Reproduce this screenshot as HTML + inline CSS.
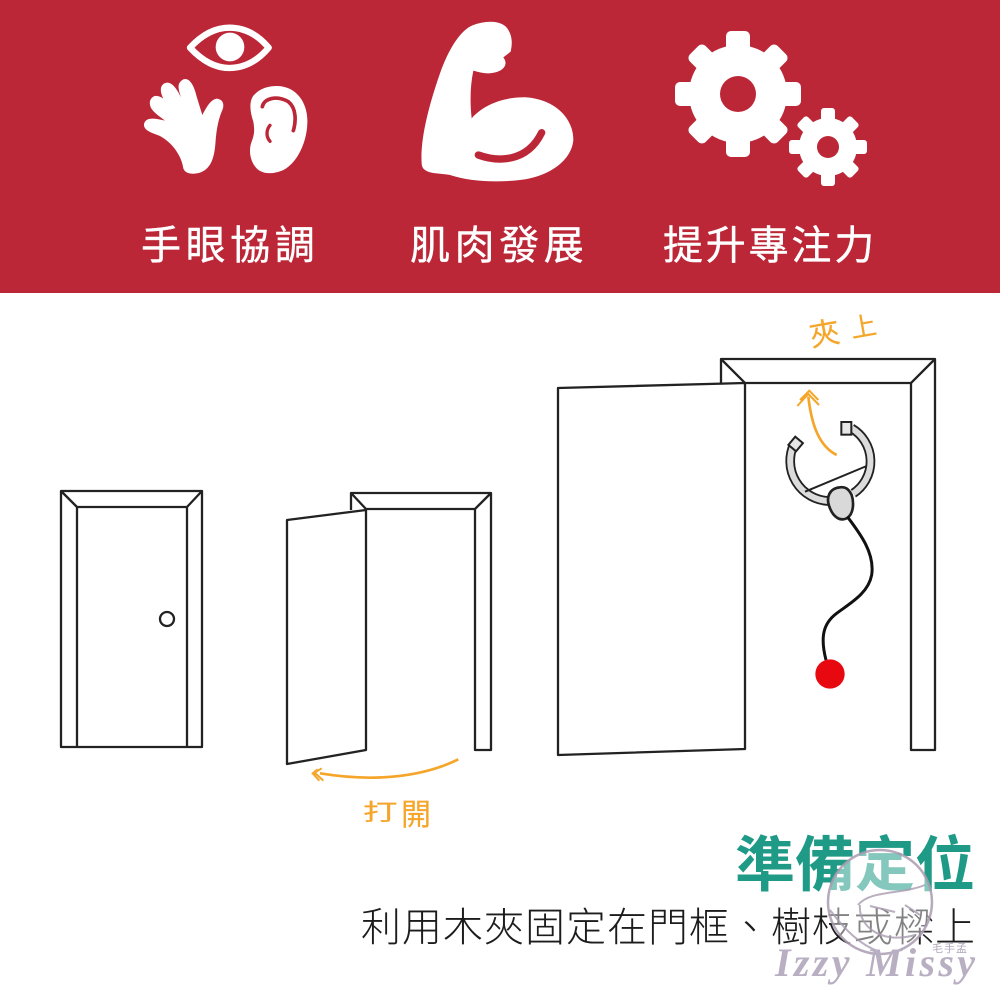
<!DOCTYPE html>
<html><head><meta charset="utf-8">
<style>
html,body{margin:0;padding:0;background:#fff}
#p{position:relative;width:1000px;height:1000px;overflow:hidden;background:#fff}
svg{position:absolute;left:0;top:0}
text{font-family:"Liberation Sans","Noto Sans CJK TC",sans-serif}
</style></head><body><div id="p">
<svg width="1000" height="1000" viewBox="0 0 1000 1000">
<rect width="1000" height="293" fill="#bc2738"/>
<!-- eye / hand / ear / arm -->
<g transform="translate(120,0) scale(.33333)">
<path d="M210,143 C250,100 290,83 328,83 C370,83 410,100 446,143 C410,186 370,204 328,204 C290,204 250,186 210,143Z" fill="none" stroke="#fff" stroke-width="19" stroke-linejoin="round"/>
<circle cx="330" cy="141" r="43" fill="#fff"/>
<path fill="#fff" d="M190,505 C185,470 160,430 120,408 C95,398 70,392 72,372 C78,350 105,355 135,362 C115,345 85,330 90,303 C98,282 115,285 130,296 C122,280 118,262 130,252 C148,240 165,255 183,292 C176,270 168,250 190,238 C208,232 222,255 230,290 L247,345 C258,325 270,300 290,296 C310,298 315,315 305,335 C295,360 290,385 287,420 C284,470 275,505 240,518 C215,525 195,520 190,505Z"/>
<path fill="#fff" d="M470,258 C530,258 565,310 562,370 C560,430 530,490 490,510 C465,522 430,525 410,505 C390,485 385,450 395,425 C405,400 403,385 400,365 C388,330 388,300 402,285 C420,265 445,258 470,258Z"/>
<path d="M427,320 C432,295 470,285 505,305 C530,325 528,365 520,392" fill="none" stroke="#bc2738" stroke-width="11" stroke-linecap="round"/>
<path d="M450,376 C438,390 438,410 450,424" fill="none" stroke="#bc2738" stroke-width="10" stroke-linecap="round"/>
<path fill="#fff" d="M905,490 C900,420 925,320 960,220 C985,150 1020,90 1060,75 C1100,60 1150,60 1165,90 C1180,115 1175,140 1172,155 L1150,172 C1160,185 1160,200 1140,212 C1115,225 1085,220 1060,212 C1050,260 1050,310 1055,355 C1090,315 1150,290 1220,292 C1300,298 1360,350 1360,420 C1355,480 1290,530 1200,540 C1130,548 1050,545 990,525 C960,518 905,525 905,490Z"/>
<path d="M1075,465 C1130,485 1220,490 1265,398" fill="none" stroke="#bc2738" stroke-width="22" stroke-linecap="round"/>
</g>
<!-- gears -->
<g transform="translate(738,94)" fill="#fff">
<circle r="49"/>
<rect x="-12" y="-63" width="24" height="126" rx="5"/><rect x="-63" y="-12" width="126" height="24" rx="5"/>
<g transform="rotate(45)"><rect x="-11" y="-62" width="22" height="124" rx="5"/><rect x="-62" y="-11" width="124" height="22" rx="5"/></g>
<circle r="18" fill="#bc2738"/>
</g>
<g transform="translate(828,147)" fill="#fff">
<circle r="29"/>
<rect x="-7" y="-39" width="14" height="78" rx="3"/><rect x="-39" y="-7" width="78" height="14" rx="3"/>
<g transform="rotate(45)"><rect x="-7" y="-38" width="14" height="76" rx="3"/><rect x="-38" y="-7" width="76" height="14" rx="3"/></g>
<circle r="11" fill="#bc2738"/>
</g>
<g fill="#fff" font-size="40" stroke="#fff" stroke-width=".4" stroke-linejoin="round">
<text x="141" y="259" letter-spacing="4.6">手眼協調</text>
<text x="410" y="259" letter-spacing="4.6">肌肉發展</text>
<text x="663" y="259" letter-spacing="2.8">提升專注力</text>
</g>
<!-- doors -->
<g fill="none" stroke="#222" stroke-width="2.3" stroke-linejoin="round">
<path d="M61,747 V491 H202 V747 Z M77,747 V507 H187 V747 M61,491 L77,507 M202,491 L187,507"/>
<circle cx="167" cy="619" r="7"/>
<path d="M351,510 V493 H491 V750 H475 V509 H366 M351,493 L366,509 M491,493 L475,509"/>
<path d="M287,520 L366,510 V750 L287,764 Z"/>
<path d="M721,383 V359 H935 V750 H911 V383 H745 M721,359 L745,383 M935,359 L911,383"/>
<path d="M558,388 L745,383 V749 L558,755 Z" fill="#fff"/>
</g>
<!-- clip -->
<g transform="translate(740,300) scale(.33333)">
<path d="M162,432 A120,120 0 0 0 265,603 M340,580 A115,115 0 0 0 335,385" fill="none" stroke="#222" stroke-width="29"/>
<path d="M162,432 A120,120 0 0 0 265,603 M340,580 A115,115 0 0 0 335,385" fill="none" stroke="#dcdcdc" stroke-width="18"/>
<rect x="304" y="366" width="30" height="38" fill="#e6e6e6" stroke="#222" stroke-width="6"/>
<rect x="152" y="416" width="30" height="32" fill="#e6e6e6" stroke="#222" stroke-width="6" transform="rotate(40 167 432)"/>
<path d="M195,575 L380,498" stroke="#222" stroke-width="6" fill="none"/>
<path d="M300,562 C270,565 255,590 270,625 C280,650 300,665 320,655 C345,640 340,600 335,585 C325,565 315,560 300,562Z" fill="#d9d9d9" stroke="#222" stroke-width="8"/>
<path d="M290,465 C240,440 215,380 205,290" fill="none" stroke="#f5a62a" stroke-width="8"/>
<path d="M172,318 L205,282 L237,315 M180,300 L208,272 L235,300" fill="none" stroke="#f5a62a" stroke-width="6"/>
</g>
<g transform="translate(760,500) scale(.33333)">
<path d="M262,50 C300,100 345,160 335,225 C325,280 270,310 230,340 C190,370 180,410 198,480" fill="none" stroke="#111" stroke-width="9"/>
<circle cx="210" cy="522" r="44" fill="#e8080f"/>
</g>
<!-- door 2 arrow -->
<g transform="translate(280,740) scale(.33333)" fill="none" stroke="#f5a62a">
<path d="M535,58 C420,115 270,125 120,100" stroke-width="8"/>
<path d="M125,85 L104,98 L130,122 M113,88 L98,100 L118,122" stroke-width="6"/>
</g>
<g fill="#f5a62a" stroke="#f5a62a" stroke-width=".2">
<text transform="translate(363,820) scale(1.5,1)" font-size="23">打</text>
<text x="401" y="825" font-size="30">開</text>
<text x="809" y="344" font-size="30" transform="rotate(-10 825 330)">夾</text>
<text x="850" y="336" font-size="26" transform="rotate(-10 862 325)">上</text>
</g>
<!-- captions -->
<text x="735" y="886" font-size="60" font-weight="700" fill="#1f9a87">準備定位</text>
<text x="361" y="941" font-size="40" fill="#1c1c1c" letter-spacing="1" font-weight="300">利用木夾固定在門框、樹枝或樑上</text>
<!-- watermark -->
<circle cx="880" cy="902" r="52" fill="#fff" fill-opacity=".45" stroke="#a99bb0" stroke-width="2.5" stroke-opacity=".85"/>
<path d="M858,905 C870,890 900,895 925,885 M860,905 C858,925 880,945 915,935 M870,906 L895,912 M905,905 L920,915 M830,910 C845,930 860,945 880,952" fill="none" stroke="#a99bb0" stroke-width="2" stroke-opacity=".8"/>
<text x="775" y="976" style="font-family:'Liberation Serif',serif" font-size="40" font-style="italic" font-weight="700" fill="#b9afc3" textLength="200" lengthAdjust="spacing">Izzy Missy</text>
<text x="932" y="952" font-size="11" fill="#b3a8bd" letter-spacing="1">毛手孟</text>
</svg>
</div></body></html>
